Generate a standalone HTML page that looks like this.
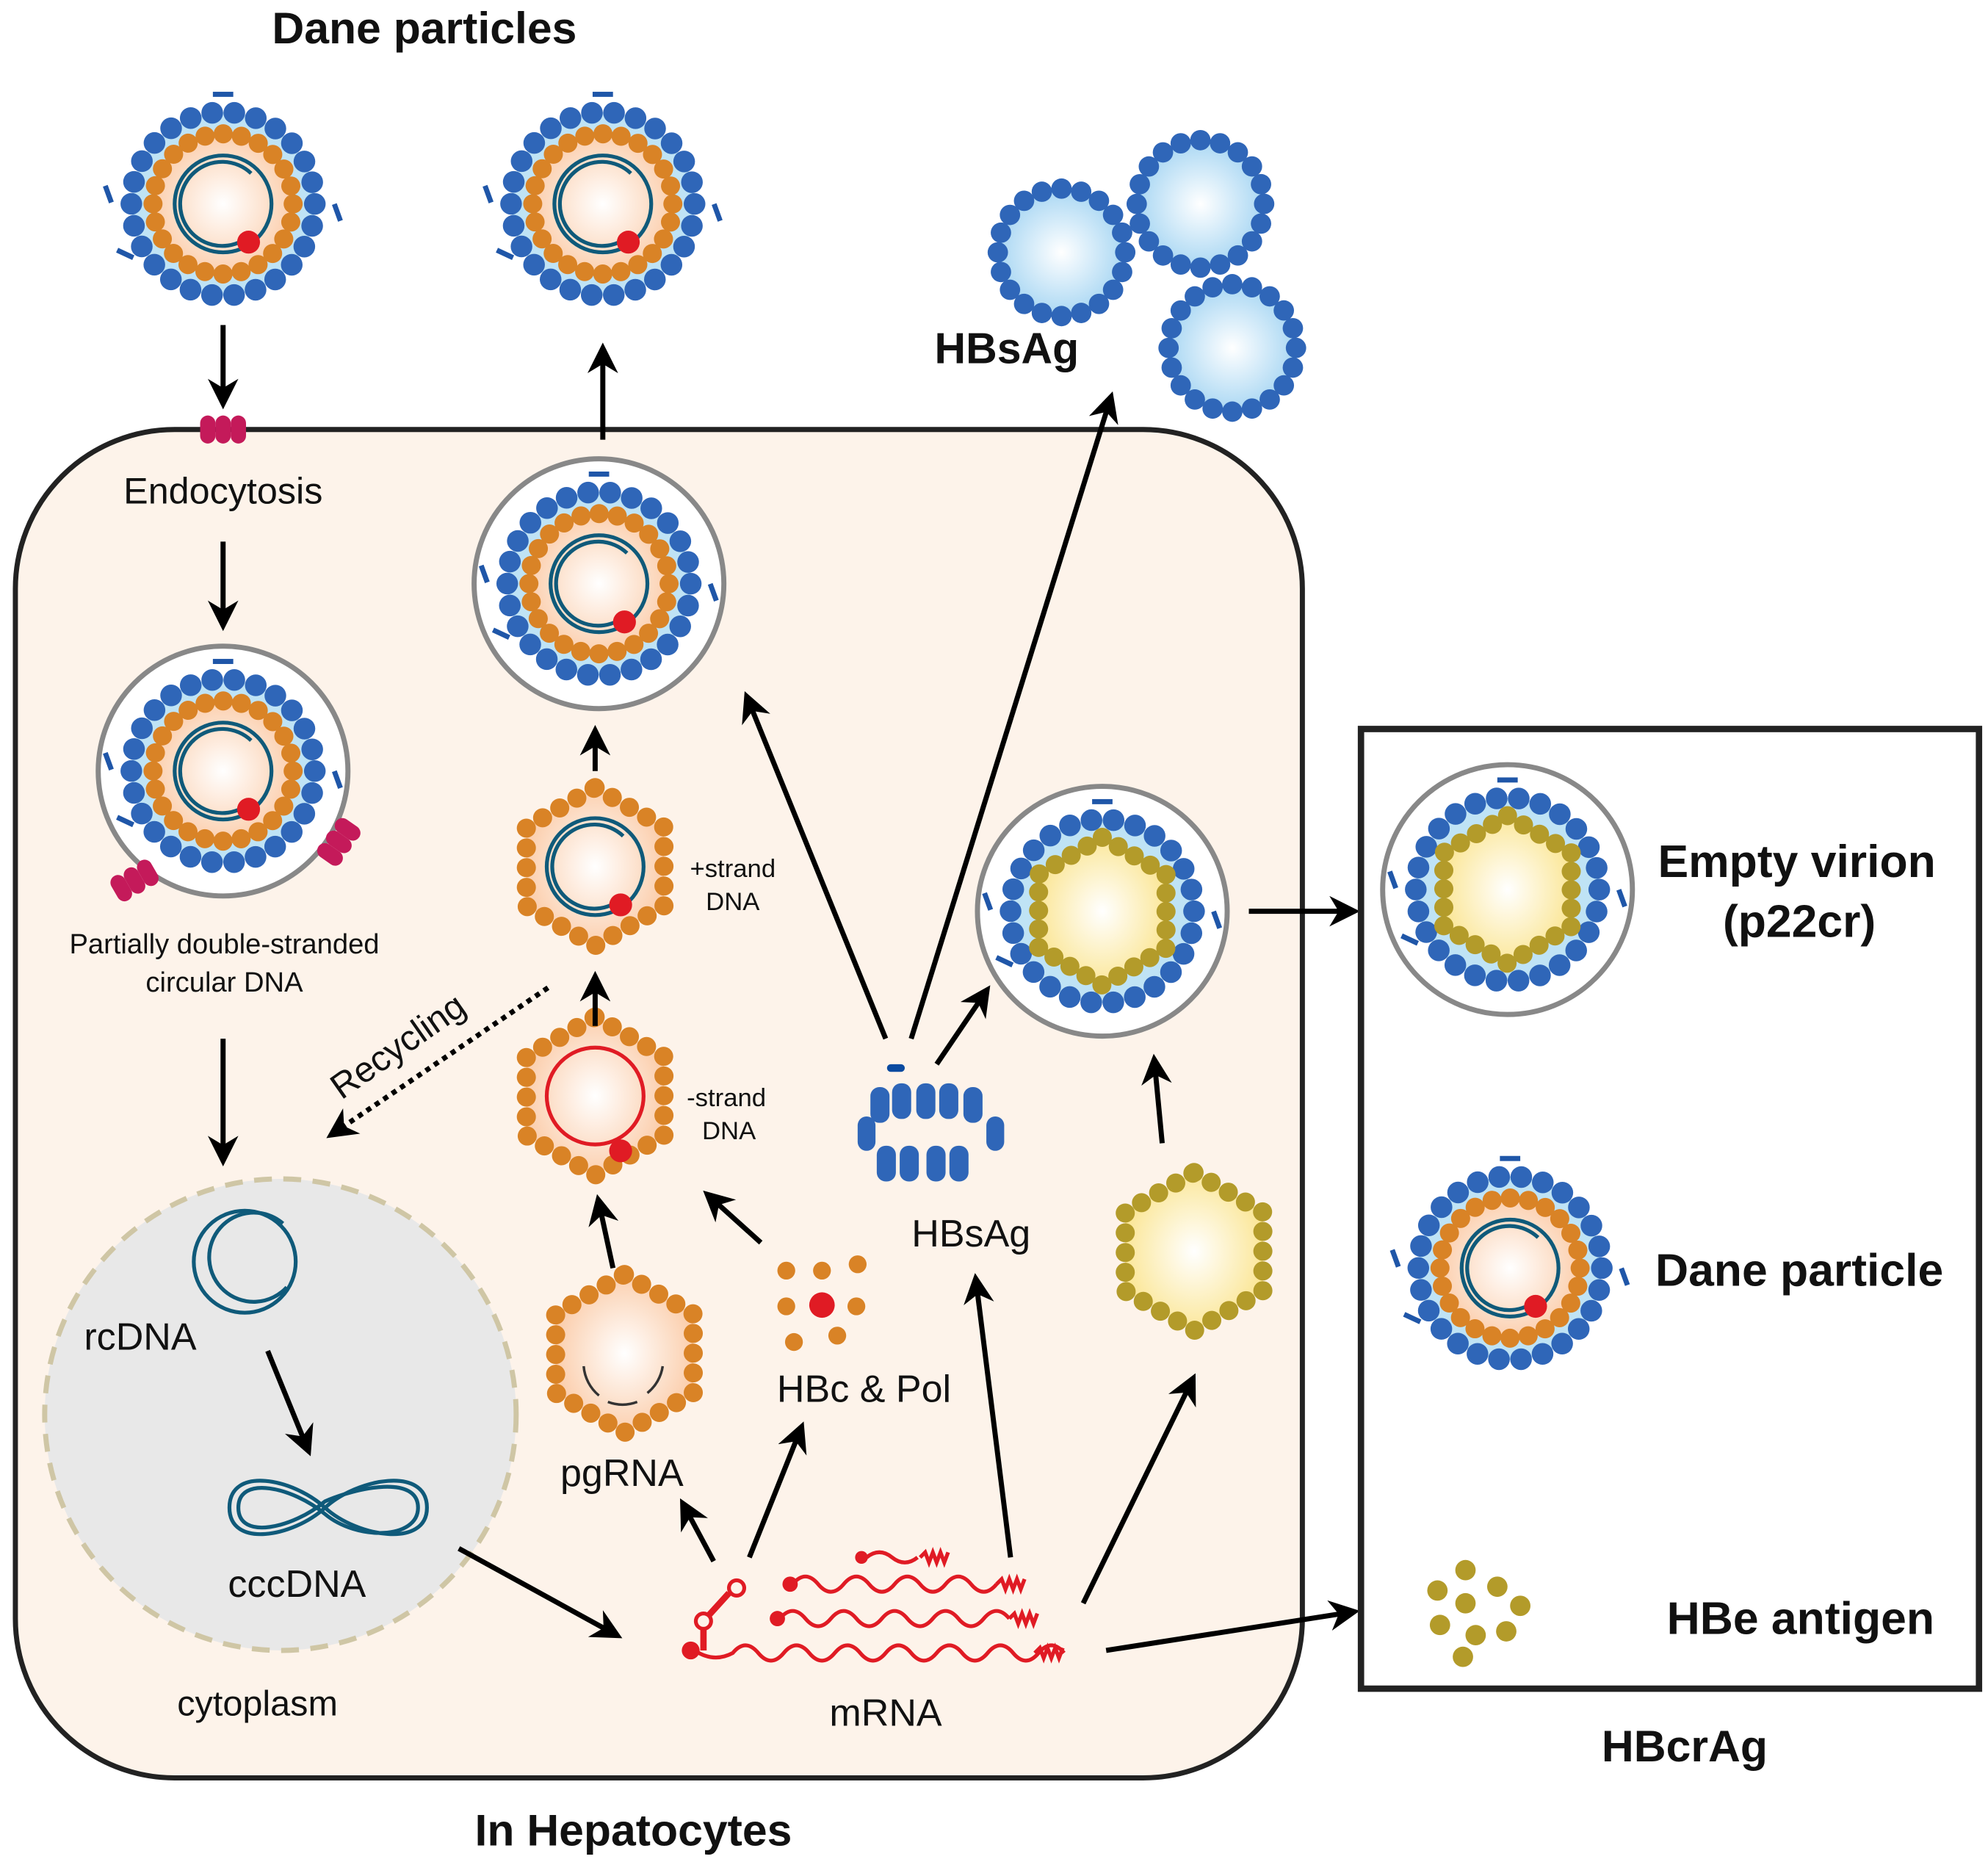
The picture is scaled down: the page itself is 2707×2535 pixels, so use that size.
<!DOCTYPE html>
<html><head><meta charset="utf-8"><style>
html,body{margin:0;padding:0;background:#fff}
svg{display:block}
text{font-family:"Liberation Sans",Arial,sans-serif;fill:#111}
</style></head><body>
<svg width="2707" height="2535" viewBox="0 0 1560 1461" xmlns="http://www.w3.org/2000/svg">
<defs>
<radialGradient id="peach"><stop offset="0" stop-color="#fff"/><stop offset="1" stop-color="#fbcfae"/></radialGradient>
<radialGradient id="yel"><stop offset="0" stop-color="#fff"/><stop offset="1" stop-color="#fbe79a"/></radialGradient>
<radialGradient id="blu"><stop offset="0" stop-color="#fff"/><stop offset="1" stop-color="#a9d7f3"/></radialGradient>
<marker id="ah" viewBox="0 0 10 10" refX="7" refY="5" markerWidth="6" markerHeight="6" orient="auto"><path d="M0,0 L10,5 L0,10 L3,5 Z" fill="#000"/></marker>
<g id="env">
 <circle r="72" fill="#bfe3f5"/>
 <circle r="72" fill="none" stroke="#2f66b8" stroke-width="17" stroke-dasharray="0 17.4" stroke-linecap="round"/>
 <rect x="-8" y="-88" width="16" height="4" fill="#1f56a8"/>
 <rect x="-84" y="-45" width="4" height="14" fill="#1f56a8" transform="rotate(-20)"/>
 <rect x="80" y="30" width="4" height="14" fill="#1f56a8" transform="rotate(-20)"/>
 <rect x="-60" y="66" width="14" height="4" fill="#1f56a8" transform="rotate(25)"/>
</g>
<g id="core">
 <circle r="55" fill="url(#peach)"/>
 <circle r="55" fill="none" stroke="#d98326" stroke-width="15" stroke-dasharray="0 14.4" stroke-linecap="round"/>
</g>
<g id="dna">
 <circle r="38" fill="none" stroke="#0f5a7a" stroke-width="3"/>
 <path d="M22,-24 A33,33 0 1 0 15,29" fill="none" stroke="#0f5a7a" stroke-width="3"/>
 <circle cx="20" cy="30" r="9" fill="#e01b24"/>
</g>
<g id="dane"><use href="#env"/><use href="#core"/><use href="#dna"/></g>
<g id="empty"><use href="#env"/>
 <polygon points="0,-58 50,-29 50,29 0,58 -50,29 -50,-29" fill="url(#yel)" stroke="#b39b2a" stroke-width="15" stroke-dasharray="0 14.5" stroke-linecap="round"/>
</g>
<g id="ring"><circle r="98" fill="#fff" stroke="#888" stroke-width="4"/></g>
<g id="hex"><polygon points="0,-62 54,-31 54,31 0,62 -54,31 -54,-31" fill="url(#peach)" stroke="#d98326" stroke-width="15" stroke-dasharray="0 15.5" stroke-linecap="round"/></g>
<g id="sph"><circle r="50" fill="url(#blu)"/><circle r="50" fill="none" stroke="#2f66b8" stroke-width="16" stroke-dasharray="0 15.7" stroke-linecap="round"/></g>
<g id="rec"><g fill="#c41a5a"><rect x="-18" y="-10" width="12" height="22" rx="6"/><rect x="-6" y="-10" width="12" height="22" rx="6"/><rect x="6" y="-10" width="12" height="22" rx="6"/></g></g>
</defs>

<text x="333" y="34" font-size="35" font-weight="bold" text-anchor="middle">Dane particles</text>
<use href="#dane" x="175" y="160"/>
<use href="#dane" x="473" y="160"/>
<use href="#sph" x="833" y="198"/>
<use href="#sph" x="942" y="160"/>
<use href="#sph" x="967" y="273"/>
<text x="790" y="285" font-size="34" font-weight="bold" text-anchor="middle">HBsAg</text>

<rect x="12" y="337" width="1010" height="1058" rx="125" fill="#fdf3ea" stroke="#222" stroke-width="4"/>
<use href="#rec" x="175" y="336"/>
<text x="175" y="395" font-size="29" text-anchor="middle">Endocytosis</text>

<use href="#ring" x="175" y="605"/><use href="#dane" x="175" y="605"/>
<use href="#rec" x="105" y="690" transform="rotate(-30 105 690)"/>
<use href="#rec" x="265" y="660" transform="rotate(-55 265 660)"/>
<text x="176" y="748" font-size="22" text-anchor="middle">Partially double-stranded</text>
<text x="176" y="778" font-size="22" text-anchor="middle">circular DNA</text>

<circle cx="220" cy="1110" r="185" fill="#e8e8e8" stroke="#cfc6a5" stroke-width="4" stroke-dasharray="14 9"/>
<circle cx="192" cy="990" r="40" fill="none" stroke="#0f5a7a" stroke-width="3"/>
<path d="M222,960 A35,35 0 1 0 225,1010" fill="none" stroke="#0f5a7a" stroke-width="3"/>
<text x="110" y="1059" font-size="30" text-anchor="middle">rcDNA</text>
<g fill="none" stroke="#0f5a7a" stroke-width="3">
<path d="M180,1183 C180,1150 230,1160 255,1183 C280,1206 335,1215 335,1183 C335,1150 280,1160 255,1183 C230,1206 180,1215 180,1183Z"/>
<path d="M187,1183 C187,1157 230,1167 255,1188 C280,1209 328,1208 328,1183 C328,1157 280,1167 255,1178 C230,1199 187,1209 187,1183Z"/>
</g>
<text x="233" y="1253" font-size="30" text-anchor="middle">cccDNA</text>
<text x="202" y="1346" font-size="28" text-anchor="middle">cytoplasm</text>

<use href="#ring" x="470" y="458"/><use href="#dane" x="470" y="458"/>
<use href="#hex" x="467" y="680"/><use href="#dna" x="467" y="680"/>
<text x="575" y="688" font-size="20" text-anchor="middle">+strand</text>
<text x="575" y="714" font-size="20" text-anchor="middle">DNA</text>
<use href="#hex" x="467" y="860"/>
<circle cx="467" cy="860" r="38" fill="none" stroke="#e01b24" stroke-width="3"/>
<circle cx="487" cy="903" r="9" fill="#e01b24"/>
<text x="570" y="868" font-size="20" text-anchor="middle">-strand</text>
<text x="572" y="894" font-size="20" text-anchor="middle">DNA</text>
<use href="#hex" x="490" y="1062"/>
<path d="M458,1072 A33,33 0 0 0 470,1095 M477,1100 A33,33 0 0 0 500,1100 M508,1093 A33,33 0 0 0 520,1072" fill="none" stroke="#333" stroke-width="2"/>
<text x="488" y="1166" font-size="30" text-anchor="middle">pgRNA</text>

<g fill="#d98326"><circle cx="617" cy="997" r="7"/><circle cx="645" cy="997" r="7"/><circle cx="673" cy="992" r="7"/><circle cx="617" cy="1025" r="7"/><circle cx="672" cy="1025" r="7"/><circle cx="623" cy="1053" r="7"/><circle cx="657" cy="1048" r="7"/></g>
<circle cx="645" cy="1024" r="10" fill="#e01b24"/>
<text x="678" y="1100" font-size="30" text-anchor="middle">HBc &amp; Pol</text>

<g fill="#2f66b8">
<rect x="683" y="853" width="15" height="28" rx="7"/><rect x="700" y="850" width="15" height="28" rx="7"/><rect x="719" y="850" width="15" height="28" rx="7"/><rect x="737" y="850" width="15" height="28" rx="7"/><rect x="756" y="853" width="15" height="28" rx="7"/>
<rect x="673" y="876" width="14" height="27" rx="7"/><rect x="774" y="876" width="14" height="27" rx="7"/>
<rect x="688" y="899" width="15" height="28" rx="7"/><rect x="706" y="899" width="15" height="28" rx="7"/><rect x="727" y="899" width="15" height="28" rx="7"/><rect x="745" y="899" width="15" height="28" rx="7"/>
<rect x="696" y="835" width="14" height="6" rx="3" fill="#0a4aa0"/>
</g>
<text x="762" y="978" font-size="30" text-anchor="middle">HBsAg</text>

<use href="#ring" x="865" y="715"/><use href="#empty" x="865" y="715"/>
<polygon points="937,920 991,951 991,1013 937,1044 883,1013 883,951" fill="url(#yel)" stroke="#b39b2a" stroke-width="15" stroke-dasharray="0 15.5" stroke-linecap="round"/>

<g fill="none" stroke="#e01b24" stroke-width="3">
<path d="M680,1222 q10,-8 20,0 t20,0 M722,1222 l4,-4 l3,8 l3,-8 l3,8 l3,-8 l3,8 l3,-8"/>
<path d="M622,1243 q10,-12 20,0 t20,0 t20,0 t20,0 t20,0 t20,0 t20,0 t20,0 M782,1243 l4,-4 l3,8 l3,-8 l3,8 l3,-8 l3,8 l3,-8"/>
<path d="M612,1270 q10,-12 20,0 t20,0 t20,0 t20,0 t20,0 t20,0 t20,0 t20,0 t20,0 M792,1270 l4,-4 l3,8 l3,-8 l3,8 l3,-8 l3,8 l3,-8"/>
<path d="M545,1295 q15,10 30,2 q10,-12 20,0 t20,0 t20,0 t20,0 t20,0 t20,0 t20,0 t20,0 t20,0 t20,0 t20,0 t20,0 t20,0 M812,1297 l4,-4 l3,8 l3,-8 l3,8 l3,-8 l3,8 l3,-8"/>
<path d="M552,1295 V1272 l20,-22" stroke-width="5"/>
<circle cx="552" cy="1272" r="6" fill="#fdf3ea"/><circle cx="578" cy="1246" r="6" fill="#fdf3ea"/>
</g>
<g fill="#e01b24"><circle cx="676" cy="1222" r="5"/><circle cx="620" cy="1243" r="6"/><circle cx="610" cy="1270" r="6"/><circle cx="542" cy="1295" r="7"/></g>
<text x="695" y="1354" font-size="30" text-anchor="middle">mRNA</text>

<g stroke="#000" stroke-width="4" fill="none" marker-end="url(#ah)">
<line x1="175" y1="255" x2="175" y2="314"/>
<line x1="175" y1="425" x2="175" y2="488"/>
<line x1="175" y1="815" x2="175" y2="908"/>
<line x1="210" y1="1060" x2="241" y2="1136"/>
<line x1="360" y1="1215" x2="482" y2="1282"/>
<line x1="560" y1="1225" x2="537" y2="1182"/>
<line x1="588" y1="1222" x2="628" y2="1122"/>
<line x1="481" y1="995" x2="470" y2="944"/>
<line x1="597" y1="975" x2="557" y2="939"/>
<line x1="467" y1="805" x2="467" y2="769"/>
<line x1="467" y1="605" x2="467" y2="576"/>
<line x1="473" y1="345" x2="473" y2="276"/>
<line x1="695" y1="815" x2="587" y2="549"/>
<line x1="715" y1="815" x2="871" y2="314"/>
<line x1="735" y1="835" x2="773" y2="779"/>
<line x1="793" y1="1222" x2="766" y2="1006"/>
<line x1="850" y1="1258" x2="935" y2="1084"/>
<line x1="868" y1="1295" x2="1060" y2="1265"/>
<line x1="912" y1="897" x2="906" y2="834"/>
<line x1="980" y1="715" x2="1060" y2="715"/>
<line x1="430" y1="775" x2="262" y2="889" stroke-dasharray="4 4"/>
</g>
<text x="313" y="830" font-size="28" text-anchor="middle" transform="rotate(-35 313 822)">Recycling</text>

<rect x="1068" y="572" width="485" height="753" fill="none" stroke="#222" stroke-width="5"/>
<use href="#ring" x="1183" y="698"/><use href="#empty" x="1183" y="698"/>
<text x="1410" y="688" font-size="36" font-weight="bold" text-anchor="middle">Empty virion</text>
<text x="1412" y="735" font-size="36" font-weight="bold" text-anchor="middle">(p22cr)</text>
<use href="#dane" x="1185" y="995"/>
<text x="1412" y="1009" font-size="36" font-weight="bold" text-anchor="middle">Dane particle</text>
<g fill="#b39b2a"><circle cx="1150" cy="1232" r="8"/><circle cx="1128" cy="1248" r="8"/><circle cx="1175" cy="1245" r="8"/><circle cx="1150" cy="1258" r="8"/><circle cx="1193" cy="1260" r="8"/><circle cx="1130" cy="1275" r="8"/><circle cx="1158" cy="1283" r="8"/><circle cx="1182" cy="1280" r="8"/><circle cx="1148" cy="1300" r="8"/></g>
<text x="1413" y="1282" font-size="36" font-weight="bold" text-anchor="middle">HBe antigen</text>
<text x="1322" y="1382" font-size="35" font-weight="bold" text-anchor="middle">HBcrAg</text>
<text x="497" y="1448" font-size="35" font-weight="bold" text-anchor="middle">In Hepatocytes</text>
</svg>
</body></html>
